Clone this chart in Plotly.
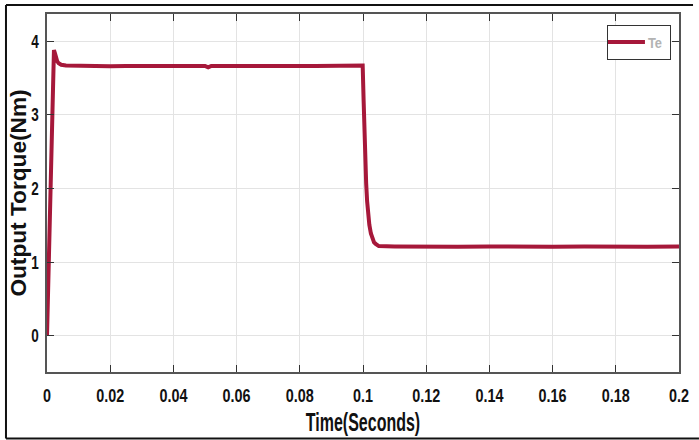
import plotly.graph_objects as go

# ---- data ----
time_s = [0.0, 0.0005, 0.0010, 0.0015, 0.0019, 0.0022, 0.0025, 0.0028, 0.0032,
          0.0037, 0.0045, 0.0060, 0.010, 0.015, 0.020, 0.025, 0.030, 0.035,
          0.040, 0.045, 0.050, 0.051, 0.052, 0.055, 0.060, 0.065, 0.070,
          0.075, 0.080, 0.085, 0.090, 0.095, 0.0999,
          0.1002, 0.1004, 0.1006, 0.1008, 0.1010, 0.1013, 0.1016, 0.1020,
          0.1025, 0.1030, 0.1035, 0.1040, 0.1050, 0.110, 0.120, 0.130,
          0.140, 0.150, 0.160, 0.170, 0.180, 0.190, 0.200]
torque = [0.0, 0.90, 1.85, 2.80, 3.50, 3.88, 3.84, 3.78, 3.73,
          3.70, 3.68, 3.67, 3.665, 3.67, 3.66, 3.665, 3.67, 3.665,
          3.665, 3.67, 3.665, 3.645, 3.665, 3.665, 3.67, 3.665, 3.665,
          3.67, 3.665, 3.665, 3.67, 3.665, 3.67,
          3.19, 2.82, 2.51, 2.26, 2.07, 1.83, 1.67, 1.51,
          1.39, 1.31, 1.27, 1.25, 1.22, 1.215, 1.21, 1.21,
          1.215, 1.21, 1.21, 1.215, 1.21, 1.21, 1.215]

x_ticks = [0, 0.02, 0.04, 0.06, 0.08, 0.1, 0.12, 0.14, 0.16, 0.18, 0.2]
x_labels = ["0", "0.02", "0.04", "0.06", "0.08", "0.1", "0.12", "0.14", "0.16", "0.18", "0.2"]
y_ticks = [0, 1, 2, 3, 4]
y_labels = ["0", "1", "2", "3", "4"]

LINE = "#A6183A"
FONT = "Liberation Sans, Arial, sans-serif"

fig = go.Figure()
fig.add_trace(go.Scatter(x=time_s, y=torque, mode="lines", name="Te",
                         line=dict(color=LINE, width=4)))

axis_common = dict(showline=True, linecolor="#555555", linewidth=1.5, mirror="ticks",
                   ticks="inside", ticklen=7, tickcolor="#333333", tickwidth=1,
                   showgrid=True, gridcolor="#e3e3e3", gridwidth=1, zeroline=False,
                   tickfont=dict(family=FONT, size=18, color="#111111", weight="bold"))

fig.update_xaxes(range=[0, 0.2], tickvals=x_ticks, ticktext=x_labels,
                 ticklabelstandoff=7,
                 title=dict(text="Time(Seconds)",
                            font=dict(family=FONT, size=25, color="#111111", weight="bold"),
                            standoff=8),
                 **axis_common)
fig.update_yaxes(range=[-0.49, 4.37], tickvals=y_ticks, ticktext=y_labels,
                 ticklabelstandoff=3,
                 title=dict(text="Output Torque(Nm)",
                            font=dict(family=FONT, size=22, color="#111111", weight="bold"),
                            standoff=2),
                 **axis_common)

# outer frame (top, left and bottom edges), in paper units
frame = dict(color="#111111", width=2)
fig.add_shape(type="line", xref="paper", yref="paper", x0=-0.0649, x1=1.0222,
              y0=1.0251, y1=1.0251, line=frame)
fig.add_shape(type="line", xref="paper", yref="paper", x0=-0.0649, x1=-0.0649,
              y0=1.0251, y1=-0.1858, line=frame)
fig.add_shape(type="line", xref="paper", yref="paper", x0=-0.0649, x1=1.0316,
              y0=-0.1858, y1=-0.1858, line=frame)

fig.update_layout(width=699, height=440,
                  margin=dict(l=47, r=20, t=14, b=68, autoexpand=False),
                  paper_bgcolor="white", plot_bgcolor="white",
                  showlegend=True,
                  legend=dict(x=0.886, y=0.97, xanchor="left", yanchor="top",
                              bgcolor="white", bordercolor="#333333", borderwidth=1,
                              font=dict(family=FONT, size=15, color="#b3b3b3", weight="bold"),
                              itemwidth=30, tracegroupgap=0))

post = """
document.body.style.margin='0';
document.body.style.overflow='hidden';
document.documentElement.style.overflow='hidden';
function squeeze(sel, f){
  document.querySelectorAll(sel).forEach(function(t){
    var w = t.getComputedTextLength();
    t.setAttribute('textLength', (w*f).toFixed(2));
    t.setAttribute('lengthAdjust', 'spacingAndGlyphs');
  });
}
squeeze('.xtick text', 0.80);
squeeze('.ytick text', 0.75);
squeeze('.g-xtitle text', 0.64);
squeeze('.g-ytitle text', 1.03);
squeeze('.legendtext', 0.86);
document.querySelectorAll('.g-ytitle').forEach(function(g){ g.setAttribute('transform','translate(6,0)'); });
document.querySelectorAll('.legend .js-line').forEach(function(p){ p.setAttribute('d','M0,0h37'); });
"""

fig.write_html("out.html", post_script=post, config={"displayModeBar": False})
